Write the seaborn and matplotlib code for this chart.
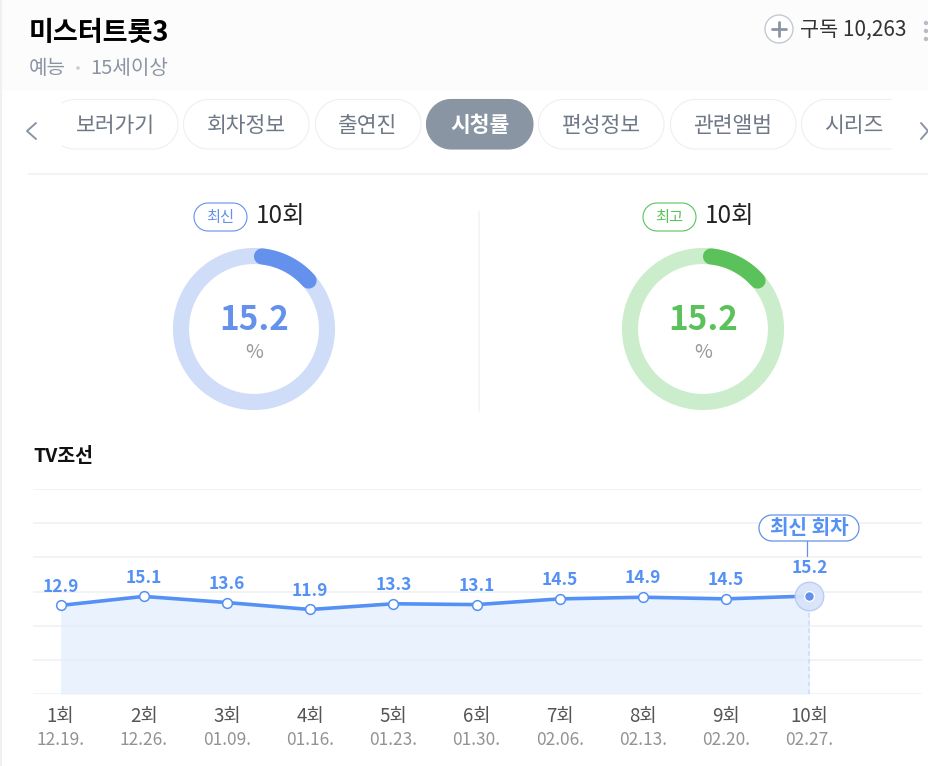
import numpy as np
import pandas as pd
import matplotlib
matplotlib.use('Agg')
import matplotlib.pyplot as plt
from matplotlib.patches import Polygon, Rectangle, Circle
import seaborn as sns

# data
episodes = ['1회', '2회', '3회', '4회', '5회', '6회', '7회', '8회', '9회', '10회']
dates = ['12.19.', '12.26.', '01.09.', '01.16.', '01.23.', '01.30.', '02.06.', '02.13.', '02.20.', '02.27.']
ratings = [12.9, 15.1, 13.6, 11.9, 13.3, 13.1, 14.5, 14.9, 14.5, 15.2]
latest_rating = 15.2
best_rating = 15.2
tabs = ['보러가기', '회차정보', '출연진', '시청률', '편성정보', '관련앨범', '시리즈']
active_tab = '시청률'

W, H = 929, 766
BLUE = '#5591F5'
RING_BLUE, RING_BLUE_LIGHT = '#6391EC', '#D0DDF9'
RING_GREEN, RING_GREEN_LIGHT = '#5BC25B', '#CBEDCB'
GRAY = '#8A94A3'

sns.set_style('white')
plt.rcParams['font.family'] = ['Noto Sans CJK KR', 'DejaVu Sans']

fig = plt.figure(figsize=(W / 100, H / 100), dpi=100, facecolor='white')

# page chrome, in pixel coordinates
ui = fig.add_axes([0, 0, 1, 1])
ui.set_xlim(0, W)
ui.set_ylim(H, 0)
ui.axis('off')


def pill(ax, x0, y0, x1, y1, fc='white', ec='#ECEEF1', lw=1.0, clip=None, z=2):
    # stadium outline, the fancy box corners come out too square
    r = (y1 - y0) / 2
    cy = (y0 + y1) / 2
    t = np.linspace(-np.pi / 2, np.pi / 2, 40)
    xs = np.r_[x1 - r + r * np.cos(t), x0 + r - r * np.cos(t)]
    ys = np.r_[cy + r * np.sin(t), cy - r * np.sin(t)]
    p = Polygon(np.c_[xs, ys], closed=True, fc=fc, ec=ec, lw=lw, zorder=z)
    ax.add_patch(p)
    if clip is not None:
        p.set_clip_path(clip)
    return p


# header
ui.add_patch(Rectangle((2, 0), W, 90, fc='#FCFCFD', ec='none', zorder=0))
ui.plot([1, 1], [0, H], color='#EEF0F3', lw=1.5, zorder=1)
ui.text(29, 33, '미스터트롯3', fontsize=19.5, fontweight='bold', color='black', va='center')
ui.text(29, 68, '예능', fontsize=14.5, color=GRAY, va='center')
ui.add_patch(Circle((78, 68), 1.8, fc='#C9CED6', ec='none'))
ui.text(90, 68, '15세이상', fontsize=14.5, color=GRAY, va='center')
ui.add_patch(Circle((779, 29), 14, fc='white', ec='#C5C9D2', lw=1.0))
ui.plot([772, 786], [29, 29], color=GRAY, lw=2.0)
ui.plot([779, 779], [22, 36], color=GRAY, lw=2.0)
ui.text(800, 30, '구독 10,263', fontsize=15, color='#333333', va='center')
for y in [23, 31, 39]:
    ui.add_patch(Circle((926, y), 2.2, fc='#B9BCC2', ec='none'))

# tabs
tab_edges = [(50, 178), (183.5, 309), (315.5, 421), (426.5, 533), (538.5, 664), (670.5, 796), (801.5, 925)]
tab_text_x = [115, 246, 368, 479.5, 601, 733, 854]
clip = Rectangle((62, 90), 830, 70, transform=ui.transData)
for name, (x0, x1), tx in zip(tabs, tab_edges, tab_text_x):
    on = name == active_tab
    pill(ui, x0, 99.5, x1, 149, fc='#8A95A3' if on else 'white',
         ec='#8A95A3' if on else '#EDEFF2', lw=0.8, clip=clip)
    ui.text(tx, 126, name, fontsize=15.5, ha='center', va='center', zorder=3,
            fontweight='bold' if on else 'normal', color='white' if on else '#6E7886')
ui.plot([36, 27, 36], [123, 131, 139], color=GRAY, lw=1.4)
ui.plot([921, 928, 921], [123, 131, 139], color=GRAY, lw=1.4)
ui.plot([29, W], [174, 174], color='#F2F3F5', lw=1.5)
ui.plot([479, 479], [212, 411], color='#F2F3F5', lw=1.2)


# rings
def ring(cx, badge, value, color, light, badge_x):
    r = 73
    t = np.linspace(0, 2 * np.pi, 361)
    ui.plot(cx + r * np.sin(t), 329 - r * np.cos(t), color=light, lw=11.6)
    # round caps stay inside the value's sweep
    cap = 8 / r
    t = np.linspace(cap, value / 100 * 2 * np.pi - cap, 100)
    ui.plot(cx + r * np.sin(t), 329 - r * np.cos(t), color=color, lw=11.6,
            solid_capstyle='round')
    ui.text(cx, 320, f'{value:.1f}', fontsize=24, fontweight='bold', color=color,
            ha='center', va='center')
    ui.text(cx, 352, '%', fontsize=14, color='#999999', ha='center', va='center')
    pill(ui, badge_x, 203, badge_x + 53, 231, ec=color, lw=0.8)
    ui.text(badge_x + 26.5, 217.5, badge, fontsize=11, color=color, ha='center', va='center', zorder=3)
    ui.text(badge_x + 61.5, 216, episodes[-1], fontsize=17.5, color='#222222', va='center')


ring(254, '최신', latest_rating, RING_BLUE, RING_BLUE_LIGHT, 194)
ring(703, '최고', best_rating, RING_GREEN, RING_GREEN_LIGHT, 643)

ui.text(33, 456, 'TV조선', fontsize=14, fontweight='bold', color='#111111', va='center')

# line chart
left, right, top, bottom = 33.5, 922.5, 489, 694
ax = fig.add_axes([left / W, 1 - bottom / H, (right - left) / W, (bottom - top) / H])
ax.patch.set_alpha(0)
df = pd.DataFrame({'x': range(len(ratings)), 'rating': ratings})

ylim = (-8.76, 41.36)
ax.set_xlim(-0.325, 10.36)
ax.set_ylim(*ylim)
ax.set_yticks(np.linspace(ylim[0], ylim[1], 7))
ax.set_yticklabels([])
ax.grid(axis='y', color='#F0F1F4', lw=1.2)
ax.set_axisbelow(True)
sns.despine(ax=ax, left=True, right=True, top=True, bottom=True)

ax.fill_between(df['x'], df['rating'], ylim[0], color='#E0ECFD', alpha=0.65, lw=0, zorder=1)
ax.plot([df['x'].iloc[-1]] * 2, [ylim[0], ratings[-1]], color='#C9DCF9', lw=1.1, ls=(0, (3, 2)), zorder=1.5)
sns.lineplot(data=df, x='x', y='rating', ax=ax, color=BLUE, lw=2.6, zorder=3,
             marker='o', markersize=7, markerfacecolor='white',
             markeredgecolor=BLUE, markeredgewidth=1.1)
ax.set_xlabel('')
ax.set_ylabel('')

# latest episode marker
ax.scatter(df['x'].iloc[-1], ratings[-1], s=420, color='#D8E4FA', edgecolor='#B5CCF5',
           lw=1.0, alpha=0.95, zorder=4)
ax.scatter(df['x'].iloc[-1], ratings[-1], s=50, color='#6391EC', edgecolor='white', lw=1.0, zorder=5)

for i, v in enumerate(ratings):
    dy = 20.5 if i == len(ratings) - 1 else 13.5
    ax.annotate(f'{v:.1f}', (i, v), xytext=(0, dy), textcoords='offset points',
                ha='center', va='center', fontsize=12.5, fontweight='bold', color=BLUE, zorder=6)

ax.set_xticks(df['x'])
ax.set_xticklabels([])
ax.tick_params(length=0)
for i, (ep, d) in enumerate(zip(episodes, dates)):
    ax.annotate(ep, (i, 0), xycoords=('data', 'axes fraction'), xytext=(0, -16),
                textcoords='offset points', ha='center', va='center', fontsize=13.5, color='#555555')
    ax.annotate(d, (i, 0), xycoords=('data', 'axes fraction'), xytext=(0, -33),
                textcoords='offset points', ha='center', va='center', fontsize=12.5, color='#939393')

# latest episode callout
ui.set_zorder(ax.get_zorder() + 1)
ui.patch.set_alpha(0)
ui.plot([807, 807], [541, 556], color='#6391EC', lw=0.9)
pill(ui, 759, 515, 859, 541, ec='#6391EC', lw=0.9)
ui.text(809, 528, '최신 회차', fontsize=14.5, fontweight='bold', color=BLUE,
        ha='center', va='center', zorder=3)

fig.savefig('out.png', dpi=100)
plt.close()
